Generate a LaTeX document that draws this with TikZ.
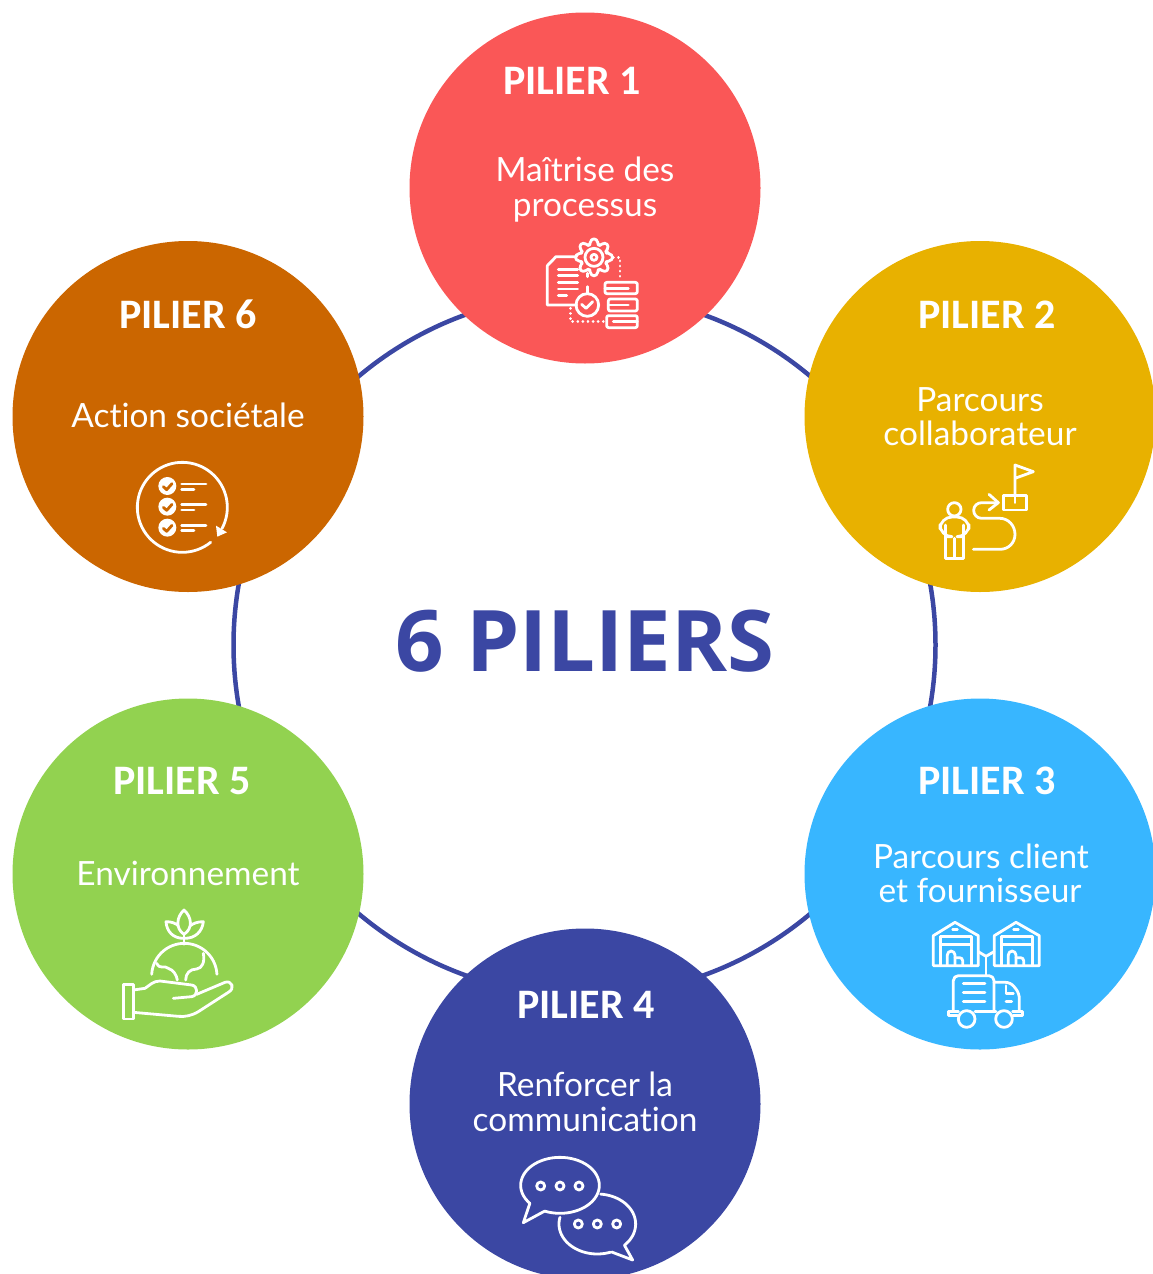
\documentclass[tikz,border=0pt]{standalone}
\usepackage{fontspec}
\setmainfont[Ligatures=NoCommon]{Lato}
\newfontfamily\headfont{Carlito}
\newfontfamily\titlefont{Open Sans}
\definecolor{cred}{HTML}{FA5757}
\definecolor{cyellow}{HTML}{E8B100}
\definecolor{cblue}{HTML}{38B6FF}
\definecolor{cnavy}{HTML}{3B47A3}
\definecolor{cgreen}{HTML}{92D250}
\definecolor{corange}{HTML}{CB6600}
\tikzset{
  pillar/.style={circle,minimum size=351pt,inner sep=0pt,fill=#1},
  ringline/.style={circle,draw=cnavy,line width=4.5pt,minimum size=702pt,inner sep=0pt},
  headtext/.style={anchor=base,text=white,font=\headfont\bfseries\fontsize{42}{42}\selectfont,inner sep=0pt},
  bodytext/.style={anchor=base,text=white,font=\fontsize{33.4}{33}\selectfont,inner sep=0pt},
  titletext/.style={anchor=base,text=cnavy,font=\titlefont\bfseries\fontsize{85}{85}\selectfont,inner sep=0pt},
  icon/.style={draw=white,line width=2.8pt,line join=round,line cap=round},
  dotline/.style={icon,dash pattern=on 0.1pt off 5pt},
  iconframe/.style 2 args={shift={(#1,#2)},x=0.3333pt,y=-0.3333pt}
}
\begin{document}
\begin{tikzpicture}[x=1pt,y=-1pt]
\clip (0,0) rectangle (1153,1274);
\node[ringline] (ring) at (584.5,645) {};
\node[pillar=cred] (p1) at (585,188) {};
\node[pillar=cyellow] (p2) at (980,416.5) {};
\node[pillar=cblue] (p3) at (980,874) {};
\node[pillar=cnavy] (p4) at (585,1104) {};
\node[pillar=cgreen] (p5) at (188,874) {};
\node[pillar=corange] (p6) at (188,416.5) {};
\node[titletext] (title) at (585,671) {6 PILIERS};
\node[headtext] (h1) at (572,94.5) {PILIER 1};
\node[bodytext] (b1a) at (585,181.5) {Maîtrise des};
\node[bodytext] (b1b) at (585,216.5) {processus};
\node[headtext] (h2) at (987,328.5) {PILIER 2};
\node[bodytext] (b2a) at (980,411) {Parcours};
\node[bodytext] (b2b) at (980,445) {collaborateur};
\node[headtext] (h3) at (987,794) {PILIER 3};
\node[bodytext] (b3a) at (981,868.5) {Parcours client};
\node[bodytext] (b3b) at (980,902) {et fournisseur};
\node[headtext] (h4) at (586,1018.5) {PILIER 4};
\node[bodytext] (b4a) at (585,1096) {Renforcer la};
\node[bodytext] (b4b) at (585,1131) {communication};
\node[headtext] (h5) at (182,794.5) {PILIER 5};
\node[bodytext] (b5) at (188,885) {Environnement};
\node[headtext] (h6) at (188,328.5) {PILIER 6};
\node[bodytext] (b6) at (188,427) {Action sociétale};
% icon 1 : process
\begin{scope}[iconframe={530}{225}]
  \draw[icon] (140,95) -- (78,95) -- (52,122) -- (52,240) -- (140,240);
  \foreach \yy in {133,152,172,192} \draw[icon] (85,\yy) -- (143,\yy);
  \draw[icon] (85,212) -- (110,212);
  \draw[icon,rounded corners=3pt] (192,97) ++(-15:40)
    \foreach \a in {0,45,...,315} {
      -- ([shift={(192,97)}]\a-15:40) -- ([shift={(192,97)}]\a-10:56)
      -- ([shift={(192,97)}]\a+10:56) -- ([shift={(192,97)}]\a+15:40)
    } -- cycle;
  \draw[icon] (192,97) circle[radius=27];
  \draw[icon] (192,97) circle[radius=9];
  \draw[icon] (172,145) -- (172,155);
  \draw[icon] (172,185) -- (172,205);
  \draw[icon] (172,240) circle[radius=34];
  \draw[icon] (155,238) -- (168,250) -- (188,230);
  \draw[dotline] (122,250) -- (122,290) -- (222,290);
  \draw[dotline] (250,97) -- (270,97) -- (270,168);
  \draw[icon,rounded corners=2pt] (225,172) rectangle (322,206);
  \draw[icon,rounded corners=2pt] (235,222) rectangle (322,258);
  \draw[icon,rounded corners=2pt] (230,272) rectangle (322,308);
  \draw[icon] (225,190) -- (295,190);
  \draw[icon] (235,240) -- (295,240);
  \draw[icon] (250,290) -- (322,290);
\end{scope}
% icon 2 : path
\begin{scope}[iconframe={925}{455}]
  \draw[icon] (88,163) circle[radius=20];
  \draw[icon] (62,210) -- (62,310) -- (115,310) -- (115,210);
  \draw[icon] (88,250) -- (88,310);
  \draw[icon,rounded corners=12pt] (62,245) -- (45,245) -- (45,186) -- (132,186) -- (132,245) -- (115,245);
  \draw[icon] (145,283) -- (225,283) .. controls (252,283) and (270,262) .. (270,238)
     .. controls (270,212) and (250,190) .. (225,190) -- (170,190)
     .. controls (155,190) and (146,178) .. (146,166) .. controls (146,152) and (158,143) .. (170,143) -- (220,143);
  \draw[icon] (192,118) -- (220,143) -- (192,165);
  \draw[icon] (235,122) rectangle (305,165);
  \draw[icon] (270,122) -- (270,30) -- (325,50) -- (270,70);
  \draw[icon] (270,122) -- (270,143);
\end{scope}
% icon 3 : logistics
\begin{scope}[iconframe={920}{915}]
  \foreach \dx in {0,183} {
    \begin{scope}[xshift=\dx*0.3333pt]
      \draw[icon] (40,152) -- (40,62) -- (105,22) -- (175,62) -- (175,152) -- cycle;
      \draw[icon] (62,152) -- (62,65) -- (155,65) -- (155,152);
      \draw[icon] (62,88) -- (155,88);
      \draw[icon] (98,43) -- (112,43);
      \draw[icon,rounded corners=4pt] (82,150) -- (82,108) -- (105,108) -- (105,150);
      \draw[icon,rounded corners=3pt] (105,128) -- (128,128) -- (128,150);
    \end{scope}
  }
  \draw[icon] (175,110) -- (198,124) -- (222,110);
  \draw[icon] (198,124) -- (198,182);
  \draw[icon,rounded corners=5pt] (100,288) -- (100,182) -- (222,182) -- (222,288);
  \draw[icon,rounded corners=5pt] (222,202) -- (272,202) -- (298,235) -- (298,288);
  \draw[icon] (258,212) -- (258,235) -- (280,235);
  \draw[icon] (130,205) -- (195,205);
  \draw[icon] (130,232) -- (195,232);
  \draw[icon] (130,260) -- (195,260);
  \draw[icon] (258,260) -- (275,260);
  \draw[icon] (115,290) -- (85,290) -- (85,302) -- (112,302);
  \draw[icon] (165,290) -- (228,290);
  \draw[icon] (278,290) -- (308,290) -- (308,302) -- (280,302);
  \draw[icon] (140,312) circle[radius=25];
  \draw[icon] (252,312) circle[radius=25];
\end{scope}
% icon 4 : chat
\begin{scope}[iconframe={510}{1150}]
  \draw[icon] plot[smooth,domain=140:473,samples=60] ({150+118*cos(\x)},{106+84*sin(\x)}) -- (40,218) -- cycle;
  \draw[icon] plot[smooth,domain=-85:45,samples=30] ({262+115*cos(\x)},{222+90*sin(\x)}) -- (368,330) -- (305,306);
  \draw[icon] plot[smooth,domain=70:193,samples=30] ({262+115*cos(\x)},{222+90*sin(\x)});
  \foreach \px/\py in {92/108,150/108,207/108,205/222,262/222,320/222}
    \draw[icon] (\px,\py) circle[radius=12];
\end{scope}
% icon 5 : earth in a hand
\begin{scope}[iconframe={115}{905}]
  \draw[icon] (207,88) .. controls (180,70) and (185,35) .. (207,15) .. controls (230,35) and (235,70) .. (207,88);
  \draw[icon] (205,100) .. controls (175,100) and (155,80) .. (153,50) .. controls (170,50) and (182,55) .. (190,62);
  \draw[icon] (210,100) .. controls (240,100) and (262,80) .. (265,50) .. controls (248,50) and (235,55) .. (226,62);
  \draw[icon] (207,88) -- (207,118);
  \draw[icon] plot[smooth,domain=183:357,samples=30] ({208+98*cos(\x)},{213+98*sin(\x)});
  \draw[icon] (125,175) .. controls (135,195) and (150,180) .. (160,190) .. controls (175,195) and (185,210) .. (187,225);
  \draw[icon] (212,225) .. controls (212,205) and (225,192) .. (245,192) .. controls (262,190) and (270,170) .. (265,145);
  \draw[icon] (25,238) rectangle (55,342);
  \draw[icon] (55,255) -- (90,250) .. controls (105,240) and (115,228) .. (135,228) -- (230,240)
    .. controls (250,243) and (250,272) .. (230,275) -- (175,280);
  \draw[icon] (245,268) -- (330,232) .. controls (350,225) and (362,250) .. (340,262) -- (250,320)
    .. controls (230,332) and (210,336) .. (190,334) -- (55,322);
\end{scope}
% icon 6 : checklist
\begin{scope}[iconframe={130}{455}]
  \draw[icon] plot[smooth,domain=51:388,samples=70] ({157+135*cos(\x)},{157+135*sin(\x)});
  \fill[white] (258,212) -- (291,232) -- (262,245) -- cycle;
  \foreach \yy in {93,155,218} {
    \fill[white] (112,\yy) circle[radius=27];
    \draw[draw=corange,line width=2.8pt,line join=round,line cap=round] (100,\yy) ++(0,2) -- ++(10,9) -- ++(16,-18);
  }
  \foreach \yy in {87,149,211} {
    \draw[icon] (155,\yy) -- (228,\yy);
    \draw[icon] (155,\yy+16) -- (192,\yy+16);
  }
\end{scope}
\end{tikzpicture}
\end{document}
